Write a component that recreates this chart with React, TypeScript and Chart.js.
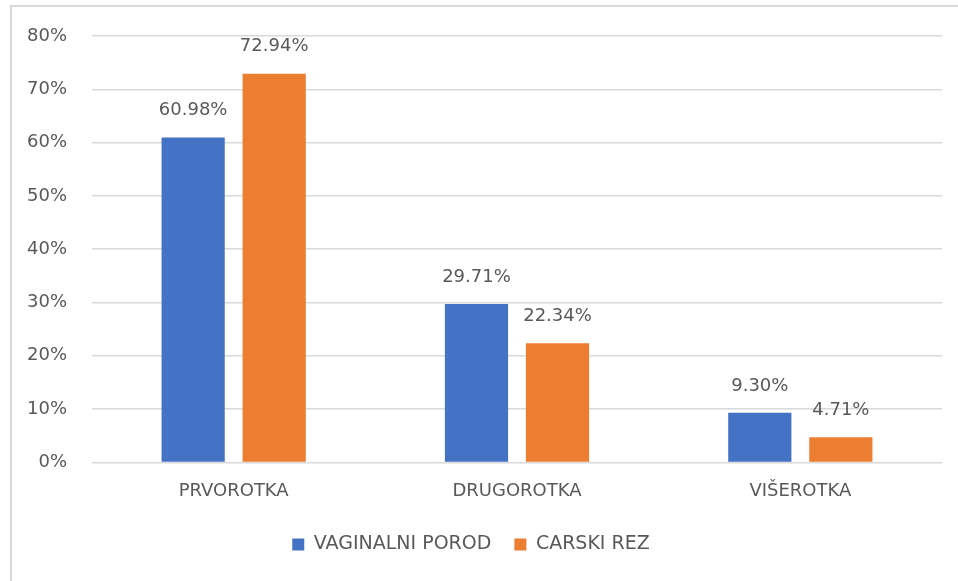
import React, { useEffect, useRef } from "react";
import { Chart, registerables } from "chart.js";

Chart.register(...registerables);

const categories = ["PRVOROTKA", "DRUGOROTKA", "VIŠEROTKA"];
const vaginalni = [60.98, 29.71, 9.3];
const carski = [72.94, 22.34, 4.71];
const seriesNames = ["VAGINALNI POROD", "CARSKI REZ"];
const yTicks = [0, 10, 20, 30, 40, 50, 60, 70, 80];

const FONT = "'DejaVu Sans', sans-serif";
const TEXT = "#595959";
const FS = 18;

const frame = {
  id: "frame",
  beforeDraw(chart: any) {
    const ctx = chart.ctx;
    ctx.save();
    ctx.strokeStyle = "#d9d9d9";
    ctx.lineWidth = 2;
    ctx.beginPath();
    ctx.moveTo(11, chart.height + 2);
    ctx.lineTo(11, 6);
    ctx.lineTo(chart.width + 2, 6);
    ctx.stroke();
    ctx.restore();
  },
};

const valueLabels = {
  id: "valueLabels",
  afterDatasetsDraw(chart: any) {
    const ctx = chart.ctx;
    ctx.save();
    ctx.font = `${FS}px ${FONT}`;
    ctx.fillStyle = TEXT;
    ctx.textAlign = "center";
    ctx.textBaseline = "middle";
    chart.data.datasets.forEach((ds: any, di: number) => {
      const meta = chart.getDatasetMeta(di);
      meta.data.forEach((bar: any, i: number) => {
        const v = ds.data[i];
        ctx.fillText(v.toFixed(2) + "%", bar.x, bar.y - 27);
      });
    });
    ctx.restore();
  },
};

export default function App() {
  const ref = useRef<HTMLCanvasElement>(null);
  useEffect(() => {
    if (!ref.current) return;
    const chart = new Chart(ref.current, {
      type: "bar",
      data: {
        labels: categories,
        datasets: [
          { label: seriesNames[0], data: vaginalni, backgroundColor: "#4472C4", categoryPercentage: 0.572, barPercentage: 0.78 },
          { label: seriesNames[1], data: carski, backgroundColor: "#ED7D31", categoryPercentage: 0.572, barPercentage: 0.78 },
        ],
      },
      options: {
        responsive: false,
        animation: false,
        layout: { padding: { left: 0, right: 16, top: 36, bottom: 17 } },
        plugins: {
          legend: {
            position: "bottom",
            labels: { font: { family: FONT, size: 19 }, color: TEXT, boxWidth: 12, boxHeight: 12, padding: 23 },
          },
          tooltip: { enabled: false },
        },
        scales: {
          x: {
            grid: { display: false },
            border: { display: false },
            ticks: { font: { family: FONT, size: FS }, color: TEXT, padding: 10 },
          },
          y: {
            min: 0,
            max: 80,
            afterFit: (s: any) => { s.width = 92; },
            afterBuildTicks: (s: any) => { s.ticks = yTicks.map((v) => ({ value: v })); },
            grid: { color: "#d9d9d9", lineWidth: 1.5, drawTicks: false },
            border: { display: false },
            ticks: {
              font: { family: FONT, size: FS },
              color: TEXT,
              padding: 25,
              callback: (v: any) => v + "%",
            },
          },
        },
      },
      plugins: [frame, valueLabels],
    });
    return () => chart.destroy();
  }, []);
  return (
    <div style={{ position: "fixed", left: 0, top: 0, width: 958, height: 581, overflow: "hidden", background: "#fff" }}>
      <canvas ref={ref} width={958} height={581} style={{ position: "absolute", left: 0, top: 0 }} />
    </div>
  );
}
